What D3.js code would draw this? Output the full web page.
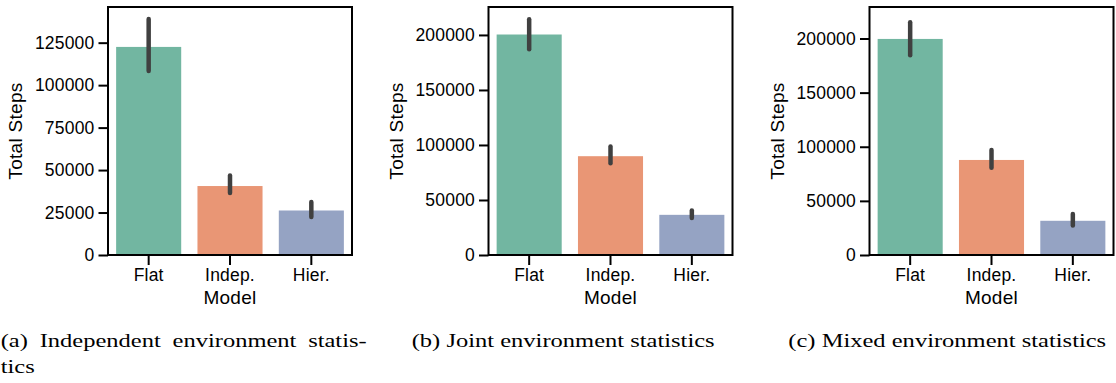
<!DOCTYPE html>
<meta charset="utf-8">
<style>
    body { margin: 0; background: #fff; }
    .tick text { font-family: "Liberation Sans", Arial, sans-serif; font-size: 17.5px; letter-spacing: 0.2px; fill: #000; }
    .label { font-family: "Liberation Sans", Arial, sans-serif; font-size: 19px; letter-spacing: 0.3px; fill: #000; }
    .caption { font-family: "Liberation Serif", "Times New Roman", serif; font-size: 18px; fill: #000; }
    .domain, .tick line { stroke: #000; stroke-width: 2px; }
</style>
<body>
<script src="https://d3js.org/d3.v7.min.js"></script>
<script>
    // categories (x axis)
    var models = ["Flat", "Indep.", "Hier."];
    var colors = ["#72b6a1", "#e99675", "#95a3c3"];

    // (a) independent environment
    var indepMean = [122500, 40600, 26200];
    var indepLow = [108300, 36500, 22300];
    var indepHigh = [138900, 46800, 31200];
    var indepTicks = [0, 25000, 50000, 75000, 100000, 125000];
    var indepMax = 146000;

    // (b) joint environment
    var jointMean = [200400, 89800, 36500];
    var jointLow = [187000, 83400, 33600];
    var jointHigh = [214200, 98500, 40400];
    var jointTicks = [0, 50000, 100000, 150000, 200000];
    var jointMax = 225400;

    // (c) mixed environment
    var mixedMean = [199600, 87800, 31600];
    var mixedLow = [184600, 80700, 27300];
    var mixedHigh = [215000, 97100, 37800];
    var mixedTicks = [0, 50000, 100000, 150000, 200000];
    var mixedMax = 229100;

    var captions = [
        ["(a) Independent environment statis-", "tics"],
        ["(b) Joint environment statistics"],
        ["(c) Mixed environment statistics"]
    ];

    var W = 1116, H = 383;
    var plotTop = 7, plotBottom = 255, pw = 244;

    var svg = d3.select("body").append("svg")
        .attr("width", W)
        .attr("height", H);

    svg.append("rect").attr("width", W).attr("height", H).attr("fill", "#fff");

    function panel(left, mean, low, high, ticks, ymax) {
        var g = svg.append("g").attr("transform", "translate(" + left + ",0)");

        var x = d3.scaleBand().domain(models).range([0, pw]).paddingInner(0.2).paddingOuter(0.1);
        var y = d3.scaleLinear().domain([0, ymax]).range([plotBottom, plotTop]);

        // bars
        g.selectAll(".bar")
            .data(mean)
            .enter().append("rect")
            .attr("x", function (d, i) { return x(models[i]); })
            .attr("width", x.bandwidth())
            .attr("y", function (d) { return y(d); })
            .attr("height", function (d) { return y(0) - y(d); })
            .attr("fill", function (d, i) { return colors[i]; });

        // error bars
        g.selectAll(".err")
            .data(mean)
            .enter().append("line")
            .attr("x1", function (d, i) { return x(models[i]) + x.bandwidth() / 2; })
            .attr("x2", function (d, i) { return x(models[i]) + x.bandwidth() / 2; })
            .attr("y1", function (d, i) { return y(low[i]); })
            .attr("y2", function (d, i) { return y(high[i]); })
            .attr("stroke", "#404040")
            .attr("stroke-width", 4.5)
            .attr("stroke-linecap", "round");

        // frame
        g.append("rect")
            .attr("x", 0).attr("y", plotTop)
            .attr("width", pw).attr("height", plotBottom - plotTop)
            .attr("fill", "none")
            .attr("stroke", "#000")
            .attr("stroke-width", 2);

        // axes
        g.append("g")
            .attr("transform", "translate(0," + plotBottom + ")")
            .call(d3.axisBottom(x).tickSize(10).tickSizeOuter(0).tickPadding(4));

        g.append("g")
            .call(d3.axisLeft(y).tickValues(ticks).tickFormat(d3.format("d")).tickSize(9.5).tickSizeOuter(0).tickPadding(4));

        g.selectAll(".domain").remove();

        // axis labels
        g.append("text")
            .attr("class", "label")
            .attr("x", pw / 2)
            .attr("y", 304)
            .attr("text-anchor", "middle")
            .text("Model");

        g.append("text")
            .attr("class", "label")
            .attr("transform", "translate(" + (-86) + "," + ((plotTop + plotBottom) / 2) + ") rotate(-90)")
            .attr("text-anchor", "middle")
            .text("Total Steps");
    }

    panel(108, indepMean, indepLow, indepHigh, indepTicks, indepMax);
    panel(488.5, jointMean, jointLow, jointHigh, jointTicks, jointMax);
    panel(869.5, mixedMean, mixedLow, mixedHigh, mixedTicks, mixedMax);

    // captions (serif, LaTeX-like); widths matched to the figure
    var capX = [0.7, 411.7, 788.3];
    var capW = [366, 303, 313];

    var tb = svg.append("text").attr("class", "caption").text(captions[1][0]);
    var s = capW[1] / tb.node().getComputedTextLength();
    tb.remove();

    captions.forEach(function (lines, k) {
        var cg = svg.append("g")
            .attr("transform", "translate(" + capX[k] + ",0) scale(" + s + ",1)");
        lines.forEach(function (line, j) {
            var t = cg.append("text")
                .attr("class", "caption")
                .attr("x", 0)
                .attr("y", 347 + j * 26)
                .text(line);
            if (k === 0 && j === 0) {
                var extra = capW[0] / s - t.node().getComputedTextLength();
                t.style("word-spacing", (extra / 3) + "px");
            }
        });
    });
</script>
</body>
